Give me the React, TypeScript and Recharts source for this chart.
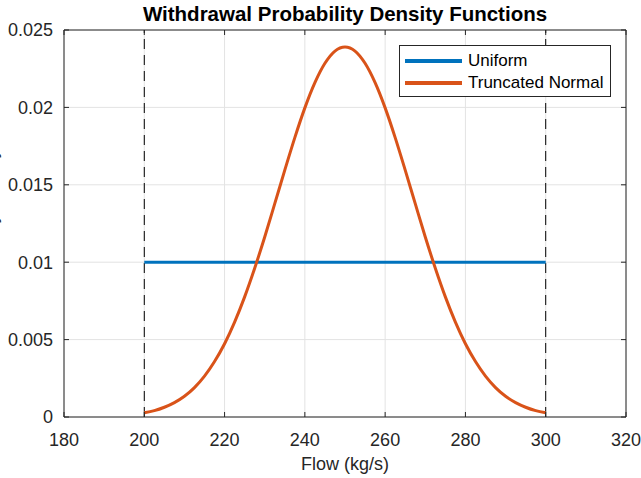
import {
  LineChart,
  Line,
  XAxis,
  YAxis,
  CartesianGrid,
  ReferenceLine,
} from 'recharts';

const flowTicks = [180, 200, 220, 240, 260, 280, 300, 320];
const densityTicks = [0, 0.005, 0.01, 0.015, 0.02, 0.025];
const boundsFlow = [200, 300];

const uniformFlow = [200, 300];
const uniformDensity = [0.01, 0.01];

const normalFlow = [
  200, 202.5, 205, 207.5, 210, 212.5, 215, 217.5, 220, 222.5, 225, 227.5, 230, 232.5,
  235, 237.5, 240, 242.5, 245, 247.5, 250, 252.5, 255, 257.5, 260, 262.5, 265, 267.5,
  270, 272.5, 275, 277.5, 280, 282.5, 285, 287.5, 290, 292.5, 295, 297.5, 300,
];
const normalDensity = [
  0.00027, 0.00041, 0.00063, 0.00093, 0.00134, 0.0019, 0.00264, 0.00358, 0.00473,
  0.00613, 0.00776, 0.00961, 0.01163, 0.01378, 0.01595, 0.01805, 0.01997, 0.0216,
  0.02285, 0.02364, 0.0239, 0.02364, 0.02285, 0.0216, 0.01997, 0.01805, 0.01595,
  0.01378, 0.01163, 0.00961, 0.00776, 0.00613, 0.00473, 0.00358, 0.00264, 0.0019,
  0.00134, 0.00093, 0.00063, 0.00041, 0.00027,
];

const uniformData = uniformFlow.map((x, i) => ({ x, y: uniformDensity[i] }));
const normalData = normalFlow.map((x, i) => ({ x, y: normalDensity[i] }));

const FONT = '"Liberation Sans", Arial, Helvetica, sans-serif';
const AXIS = '#262626';
const BLUE = '#0072BD';
const ORANGE = '#D95319';

export default function App() {
  return (
    <div style={{ position: 'absolute', left: 0, top: 0, width: 641, height: 478, fontFamily: FONT, background: '#fff' }}>
      <div
        style={{
          position: 'absolute',
          left: 64,
          width: 562,
          top: 2,
          textAlign: 'center',
          fontWeight: 'bold',
          fontSize: 20.5,
          color: '#000',
        }}
      >
        Withdrawal Probability Density Functions
      </div>
      <LineChart
        width={641}
        height={478}
        margin={{ top: 29, right: 14, bottom: 21, left: 0 }}
        style={{ fontFamily: FONT }}
      >
        <CartesianGrid stroke="#e3e3e3" strokeWidth={1} />
        <XAxis
          type="number"
          dataKey="x"
          domain={[180, 320]}
          ticks={flowTicks}
          allowDataOverflow
          height={40}
          stroke={AXIS}
          tickSize={-5}
          tickMargin={21}
          tick={{ fill: AXIS, fontSize: 18 }}
          label={{ value: 'Flow (kg/s)', position: 'bottom', offset: 0, fill: AXIS, fontSize: 18 }}
        />
        <XAxis
          xAxisId="top"
          orientation="top"
          type="number"
          dataKey="x"
          domain={[180, 320]}
          ticks={flowTicks}
          allowDataOverflow
          height={1}
          stroke={AXIS}
          tickSize={-5}
          tickFormatter={() => ''}
        />
        <YAxis
          type="number"
          domain={[0, 0.025]}
          ticks={densityTicks}
          allowDataOverflow
          width={64}
          stroke={AXIS}
          tickSize={-5}
          tickMargin={16}
          tick={{ fill: AXIS, fontSize: 18 }}
          label={{
            value: 'Probability Density',
            angle: -90,
            position: 'insideLeft',
            offset: -9,
            fill: AXIS,
            fontSize: 18,
            style: { textAnchor: 'middle' },
          }}
        />
        <YAxis
          yAxisId="right"
          orientation="right"
          type="number"
          domain={[0, 0.025]}
          ticks={densityTicks}
          allowDataOverflow
          width={1}
          stroke={AXIS}
          tickSize={-5}
          tickFormatter={() => ''}
        />
        {boundsFlow.map((b) => (
          <ReferenceLine key={b} x={b} stroke="#000" strokeWidth={1} strokeDasharray="10 6" />
        ))}
        <Line
          data={uniformData}
          dataKey="y"
          type="linear"
          stroke={BLUE}
          strokeWidth={3}
          dot={false}
          isAnimationActive={false}
        />
        <Line
          data={normalData}
          dataKey="y"
          type="monotone"
          stroke={ORANGE}
          strokeWidth={3}
          dot={false}
          isAnimationActive={false}
        />
      </LineChart>
      <div
        style={{
          position: 'absolute',
          left: 399,
          top: 45,
          width: 210,
          height: 50,
          border: `1px solid ${AXIS}`,
          background: '#fff',
          fontSize: 17,
          color: '#000',
        }}
      >
        {[
          { name: 'Uniform', color: BLUE },
          { name: 'Truncated Normal', color: ORANGE },
        ].map((s, i) => (
          <div
            key={s.name}
            style={{ position: 'absolute', left: 5, top: 5 + i * 22, height: 20, display: 'flex', alignItems: 'center' }}
          >
            <div style={{ width: 57, height: 4, background: s.color, marginRight: 6 }} />
            <span>{s.name}</span>
          </div>
        ))}
      </div>
    </div>
  );
}
